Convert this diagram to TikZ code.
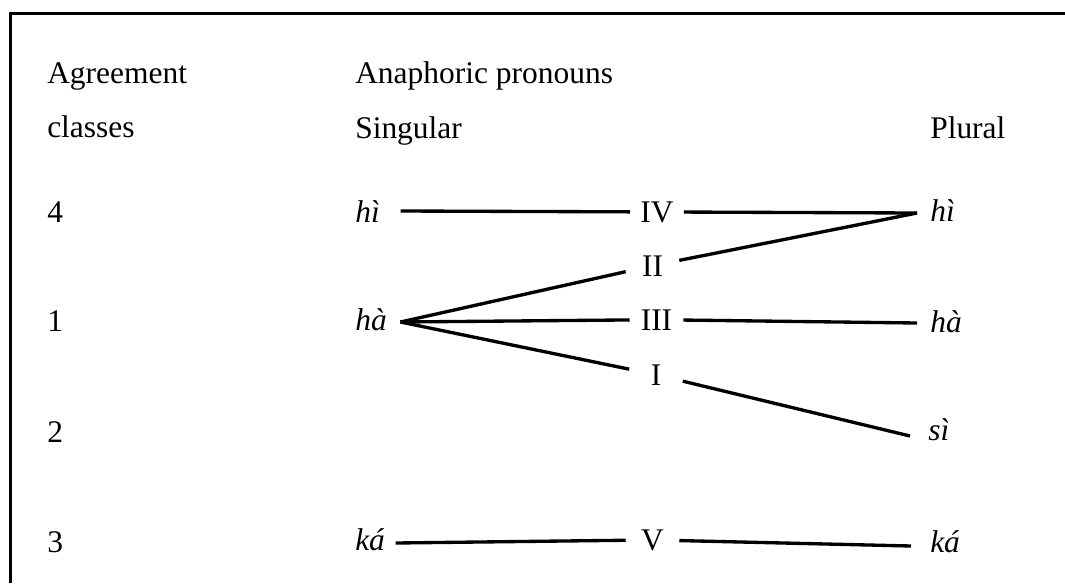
\documentclass[tikz,border=0pt]{standalone}
\usepackage{fontspec}
\setmainfont{Liberation Serif}
\usetikzlibrary{calc}
\begin{document}
\begin{tikzpicture}[x=0.75pt,y=-0.75pt,
  every node/.style={font=\fontsize{23.6}{28}\selectfont},
  lbl/.style={inner sep=0pt, anchor=base west},
  mid/.style={inner sep=0pt, anchor=base, minimum width=39.75pt, minimum height=15pt},
  conn/.style={line width=2.5pt},
  frame/.style={line width=1.9pt}]
\useasboundingbox (0,0) rectangle (1065,583);
% frame (top and left sides)
\draw[frame] (10.5,583) -- (10.5,13.5) -- (1065,13.5);
% headers
\node[lbl] (agr) at (47,83) {Agreement};
\node[lbl] (cls) at (47,137) {classes};
\node[lbl] (ana) at (355,83) {Anaphoric pronouns};
\node[lbl] (sg) at (355,138) {Singular};
\node[lbl] (pl) at (930,138) {Plural};
% class numbers
\node[lbl] (c4) at (47,222) {4};
\node[lbl] (c1) at (47,331) {1};
\node[lbl] (c2) at (47,442) {2};
\node[lbl] (c3) at (47,552) {3};
% singular forms
\node[lbl] (hiL) at (355,222) {\textit{hì}};
\node[lbl] (haL) at (355,330) {\textit{hà}};
\node[lbl] (kaL) at (355,550) {\textit{ká}};
% plural forms
\node[lbl] (hiR) at (930,221) {\textit{hì}};
\node[lbl] (haR) at (930,332) {\textit{hà}};
\node[lbl] (siR) at (928,440) {\textit{sì}};
\node[lbl] (kaR) at (930,552) {\textit{ká}};
% genders
\node[mid] (IV) at (657,222) {IV};
\node[mid] (II) at (652.5,276) {II};
\node[mid] (III) at (656.5,330) {III};
\node[mid] (I) at (656,385) {I};
\node[mid] (V) at (652.5,550) {V};
% connection points
\coordinate (hiLp) at ($(hiL.base east)+(20.5,-11)$);
\coordinate (haLp) at ($(haL.base east)+(13.5,-8)$);
\coordinate (kaLp) at ($(kaL.base east)+(10.3,-7)$);
\coordinate (hiRp) at ($(hiR.base west)+(-13,-8)$);
\coordinate (haRp) at ($(haR.base west)+(-13,-9)$);
\coordinate (siRp) at ($(siR.base west)+(-18,-4)$);
\coordinate (kaRp) at ($(kaR.base west)+(-19,-6)$);
% connectors
\draw[conn] (hiLp) -- (IV);
\draw[conn] (IV) -- (hiRp);
\draw[conn] (haLp) -- (II);
\draw[conn] (II) -- (hiRp);
\draw[conn] (haLp) -- (III);
\draw[conn] (III) -- (haRp);
\draw[conn] (haLp) -- (I);
\draw[conn] (I) -- (siRp);
\draw[conn] (kaLp) -- (V);
\draw[conn] (V) -- (kaRp);
\end{tikzpicture}
\end{document}
